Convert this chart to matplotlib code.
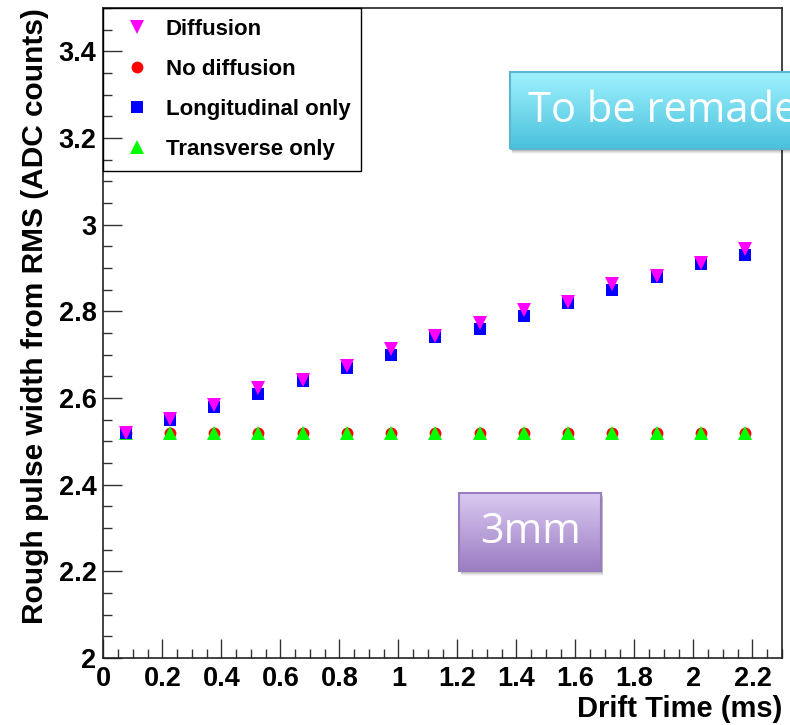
import matplotlib
matplotlib.use("Agg")
import matplotlib.pyplot as plt
import numpy as np
from matplotlib.patches import Rectangle
from matplotlib.ticker import MultipleLocator

plt.rcParams['font.family'] = ['Liberation Sans', 'DejaVu Sans']
plt.rcParams['font.weight'] = 'bold'
plt.rcParams['axes.labelweight'] = 'bold'

# drift time bins (ms)
drift_time = [0.075, 0.225, 0.375, 0.525, 0.675, 0.825, 0.975, 1.125,
              1.275, 1.425, 1.575, 1.725, 1.875, 2.025, 2.175]

# rough pulse width from RMS (ADC counts)
diffusion = [2.520, 2.552, 2.583, 2.623, 2.642, 2.673, 2.713, 2.744,
             2.773, 2.804, 2.821, 2.863, 2.882, 2.911, 2.944]
no_diffusion = [2.520, 2.520, 2.520, 2.520, 2.520, 2.520, 2.520, 2.520,
                2.520, 2.520, 2.520, 2.520, 2.520, 2.520, 2.520]
longitudinal = [2.520, 2.550, 2.580, 2.610, 2.640, 2.669, 2.700, 2.740,
                2.760, 2.790, 2.820, 2.850, 2.880, 2.910, 2.931]
transverse = [2.520, 2.520, 2.520, 2.520, 2.520, 2.520, 2.520, 2.520,
              2.520, 2.520, 2.520, 2.520, 2.520, 2.520, 2.520]

W, H = 790, 725
fig = plt.figure(figsize=(W / 100, H / 100), dpi=100)
ax = fig.add_axes([103.4 / W, 1 - 658 / H, (782 - 103.4) / W, (658 - 8) / H])

ms = 8.5
h_nodiff, = ax.plot(drift_time, no_diffusion, 'o', color='#ff0000', ms=ms, mew=0, linestyle='none')
h_trans, = ax.plot(drift_time, transverse, '^', color='#00ff00', ms=ms + 1, mew=0, linestyle='none')
h_long, = ax.plot(drift_time, longitudinal, 's', color='#0000ff', ms=ms, mew=0, linestyle='none')
h_diff, = ax.plot(drift_time, diffusion, 'v', color='#ff00ff', ms=ms + 1, mew=0, linestyle='none')

ax.set_xlim(0, 2.3)
ax.set_ylim(2, 3.5)
ax.xaxis.set_major_locator(MultipleLocator(0.2))
ax.xaxis.set_minor_locator(MultipleLocator(0.05))
ax.yaxis.set_major_locator(MultipleLocator(0.2))
ax.yaxis.set_minor_locator(MultipleLocator(0.05))
ax.xaxis.set_major_formatter(plt.FuncFormatter(lambda v, p: '%g' % round(v, 2)))
ax.yaxis.set_major_formatter(plt.FuncFormatter(lambda v, p: '%g' % round(v, 2)))

ax.tick_params(which='both', direction='in', top=False, right=False,
               labelsize=19.5, color='#333333', width=1)
ax.tick_params(which='major', length=13.5)
ax.tick_params(which='minor', length=6.5)
ax.tick_params(axis='x', pad=6)
ax.tick_params(axis='y', pad=5)
for sp in ax.spines.values():
    sp.set_linewidth(1.2)
    sp.set_color('#222222')

ax.set_xlabel('Drift Time (ms)', fontsize=21, fontweight='bold', loc='right', labelpad=2)
ax.set_ylabel('Rough pulse width from RMS (ADC counts)', fontsize=21.5,
              fontweight='bold', loc='top', labelpad=7)

leg = ax.legend([h_diff, h_nodiff, h_long, h_trans],
                ['Diffusion', 'No diffusion', 'Longitudinal only', 'Transverse only'],
                loc='upper left', bbox_to_anchor=(0, 1), borderaxespad=0,
                fontsize=16, numpoints=1, handlelength=2.0, handletextpad=0.3,
                labelspacing=0.85, borderpad=0.5, fancybox=False,
                edgecolor='black', facecolor='none', framealpha=1)
leg.get_frame().set_linewidth(1)


def note_box(x0, y0, x1, y1, top, bottom, edge, label, tx):
    # soft shadow under the box
    for k, a in enumerate([0.10, 0.08, 0.06, 0.04]):
        d = 2 + k
        fig.patches.append(Rectangle(((x0 + 2) / W, 1 - (y1 + d) / H),
                                     (x1 - x0) / W, (y1 - y0) / H,
                                     transform=fig.transFigure, color='black',
                                     alpha=a, lw=0, zorder=0.5))
    bax = fig.add_axes([x0 / W, 1 - y1 / H, (x1 - x0) / W, (y1 - y0) / H], zorder=3)
    c0 = np.array(matplotlib.colors.to_rgb(top))
    c1 = np.array(matplotlib.colors.to_rgb(bottom))
    t = np.linspace(0, 1, 100)[:, None]
    grad = (c0 * (1 - t) + c1 * t)[:, None, :]
    bax.imshow(grad, aspect='auto', extent=[0, 1, 0, 1], origin='upper')
    bax.add_patch(Rectangle((0, 0), 1, 1, transform=bax.transAxes, fill=False,
                            edgecolor=edge, lw=1.5, clip_on=False))
    bax.set_xlim(0, 1)
    bax.set_ylim(0, 1)
    bax.axis('off')
    bax.text((tx - x0) / (x1 - x0), 0.5, label, ha='left', va='center',
             color='white', fontsize=30, fontweight='normal',
             family=['Open Sans', 'DejaVu Sans'])


note_box(510, 72, 840, 149, '#a0f1fd', '#49c2dd', '#5ab6cc', 'To be remade', 528)
note_box(459, 493, 601, 571, '#dbcaf2', '#9b7dc2', '#9a7dbe', '3mm', 480)

fig.savefig('out.png', dpi=100)
